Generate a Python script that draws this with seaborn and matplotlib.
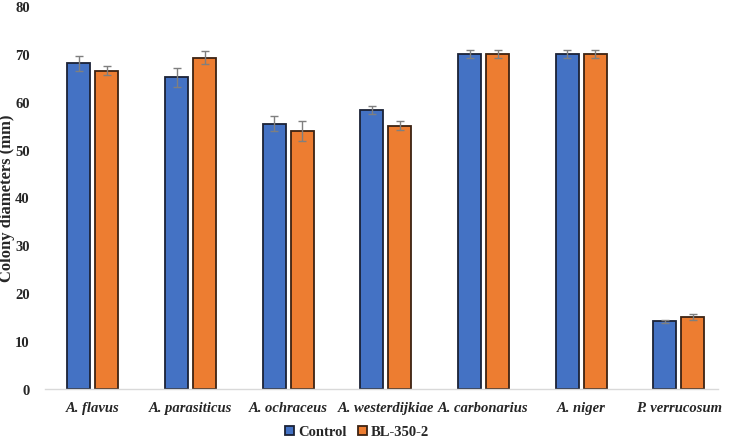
import pandas as pd
import numpy as np
import seaborn as sns
import matplotlib.pyplot as plt

# Data
species = ['A. flavus', 'A. parasiticus', 'A. ochraceus', 'A. westerdijkiae',
           'A. carbonarius', 'A. niger', 'P. verrucosum']
control = [68.0, 65.1, 55.4, 58.3, 70.0, 70.0, 14.1]
control_err = [1.6, 2.0, 1.6, 0.8, 0.9, 0.9, 0.4]
bl350 = [66.5, 69.2, 53.9, 55.0, 70.0, 70.0, 15.0]
bl350_err = [0.9, 1.3, 2.0, 1.0, 0.9, 0.9, 0.6]
treatments = ['Control', 'BL-350-2']

df = pd.DataFrame({
    'species': species * 2,
    'treatment': [treatments[0]] * len(species) + [treatments[1]] * len(species),
    'diameter': control + bl350,
})
errs = {treatments[0]: control_err, treatments[1]: bl350_err}

sns.set_style('white')
plt.rcParams['font.family'] = ['Liberation Serif', 'DejaVu Serif']

fig = plt.figure(figsize=(7.29, 4.39), dpi=100)
ax = fig.add_axes([45 / 729, 49 / 439, (718 - 45) / 729, (390 - 7) / 439])

palette = {'Control': '#4472C4', 'BL-350-2': '#ED7D31'}
edges = {'Control': '#1b2236', 'BL-350-2': '#3d2312'}
sns.barplot(data=df, x='species', y='diameter', hue='treatment', order=species,
            hue_order=treatments, palette=palette, saturation=1, width=0.574, gap=0.18,
            errorbar=None, linewidth=1.3, ax=ax)

for cont, t in zip(ax.containers, treatments):
    xs = []
    for p in cont.patches:
        p.set_edgecolor(edges[t])
        xs.append(p.get_x() + p.get_width() / 2)
    vals = df.loc[df['treatment'] == t, 'diameter'].values
    ax.errorbar(xs, vals, yerr=errs[t], fmt='none', ecolor='#7f7f7f',
                elinewidth=1.0, capsize=3, capthick=1.0, zorder=5)

ax.set_ylim(0, 80)
ax.set_xlim(-0.49, 6.40)
ax.set_yticks(range(0, 81, 10))
ax.tick_params(axis='y', length=0, pad=11, labelsize=10.5)
ax.tick_params(axis='x', length=0, pad=9, labelsize=10.5)
for lab in ax.get_yticklabels():
    lab.set_fontweight('bold')
for lab in ax.get_xticklabels():
    lab.set_fontweight('bold')
    lab.set_fontstyle('italic')
ax.set_xlabel('')
ax.set_ylabel('Colony diameters (mm)', fontsize=12, fontweight='bold')
ax.yaxis.set_label_coords(-0.044, 0.5)

for s in ['top', 'right', 'left']:
    ax.spines[s].set_visible(False)
ax.spines['bottom'].set_color('#d9d9d9')
ax.spines['bottom'].set_linewidth(1.0)

handles, labels = ax.get_legend_handles_labels()
ax.legend_.remove()
for h, t in zip(handles, treatments):
    h.set_edgecolor(edges[t])
fig.legend(handles, labels, loc='center', bbox_to_anchor=(357 / 729, 1 - 433 / 439),
           ncol=2, frameon=False, handlelength=0.65, handleheight=0.65,
           handletextpad=0.25, columnspacing=0.8, borderaxespad=0,
           prop={'weight': 'bold', 'size': 10.5})

fig.savefig('out.png', dpi=100)
